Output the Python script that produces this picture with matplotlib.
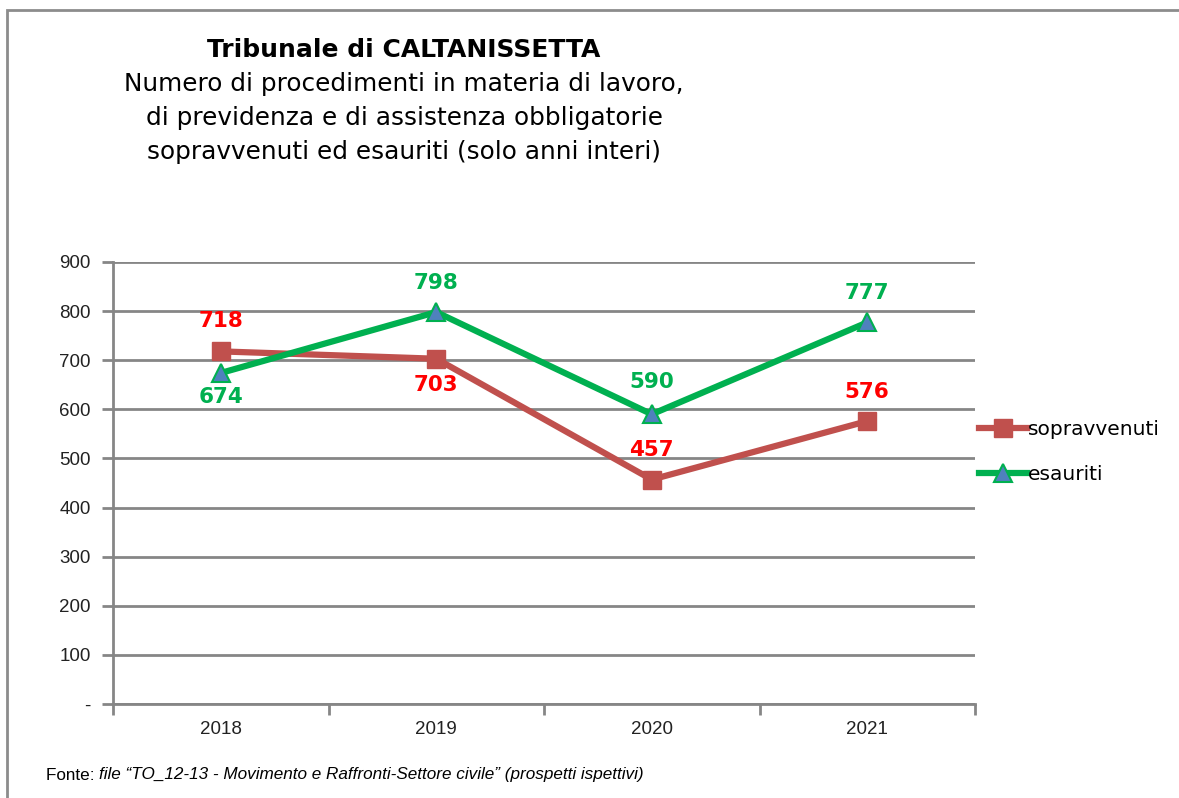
import matplotlib
matplotlib.use("Agg")
import matplotlib.pyplot as plt
from matplotlib.patches import Rectangle

years = ["2018", "2019", "2020", "2021"]
sopravvenuti = [718, 703, 457, 576]
esauriti = [674, 798, 590, 777]
yticks = [0, 100, 200, 300, 400, 500, 600, 700, 800, 900]
ytick_labels = ["-", "100", "200", "300", "400", "500", "600", "700", "800", "900"]

W, H = 1179, 798
fig = plt.figure(figsize=(W / 100, H / 100), dpi=100)

# outer frame
fig.patches.append(Rectangle((7 / W, -0.01), 1.2, (H - 10) / H + 0.01, transform=fig.transFigure,
                             fill=False, edgecolor="#8c8c8c", linewidth=2))

ax = fig.add_axes([113 / W, 94 / H, (975 - 113) / W, (704 - 262) / H])
x = list(range(len(years)))
grid_c = "#868686"

ax.set_xlim(-0.5, len(years) - 0.5)
ax.set_ylim(0, 900)
ax.set_yticks(yticks)
ax.set_yticklabels(ytick_labels, fontfamily="Liberation Sans", fontsize=13.5, color="#222222")
ax.set_xticks([i - 0.5 for i in range(len(years) + 1)])
ax.set_xticklabels([])
ax.set_xticks(x, minor=True)
ax.set_xticklabels(years, minor=True, fontfamily="Liberation Sans", fontsize=13.5, color="#222222")
ax.tick_params(axis="x", which="minor", length=0, pad=12)
ax.tick_params(axis="x", which="major", length=8, width=2, color=grid_c)
ax.tick_params(axis="y", length=8, width=2, color=grid_c, pad=8)
ax.grid(axis="y", color=grid_c, linewidth=2)
ax.set_axisbelow(True)
for s in ["top", "right"]:
    ax.spines[s].set_visible(False)
for s in ["left", "bottom"]:
    ax.spines[s].set_color(grid_c)
    ax.spines[s].set_linewidth(2)

red_line = "#C0504D"
green = "#00B050"
ax.plot(x, sopravvenuti, color=red_line, linewidth=4.5, marker="s", markersize=13.5,
        markerfacecolor=red_line, markeredgecolor=red_line, label="sopravvenuti", zorder=3)
ax.plot(x, esauriti, color=green, linewidth=4.5, marker="^", markersize=13,
        markerfacecolor="#4F81BD", markeredgecolor=green, markeredgewidth=1.5,
        label="esauriti", zorder=4)

lab_font = dict(fontfamily="DejaVu Sans", fontsize=15.5, fontweight="bold", ha="center")
sop_off = [15, -12, 14, 14]
esa_off = [-10, 14, 16, 14]
for i in x:
    o = sop_off[i]
    ax.annotate(str(sopravvenuti[i]), (i, sopravvenuti[i]), xytext=(0, o), textcoords="offset points",
                va="bottom" if o > 0 else "top", color="#FF0000", **lab_font)
    o = esa_off[i]
    ax.annotate(str(esauriti[i]), (i, esauriti[i]), xytext=(0, o), textcoords="offset points",
                va="bottom" if o > 0 else "top", color=green, **lab_font)

leg = ax.legend(loc="center left", bbox_to_anchor=(0.995, 0.57), frameon=False,
                prop={"family": "DejaVu Sans", "size": 14.5}, handlelength=2.4,
                handletextpad=0.05, labelspacing=1.3, borderaxespad=0)

fig.text(404 / W, 1 - 50 / H, "Tribunale di CALTANISSETTA", ha="center", va="center",
         fontfamily="DejaVu Sans", fontsize=18, fontweight="bold")
sub = ["Numero di procedimenti in materia di lavoro,",
       "di previdenza e di assistenza obbligatorie",
       "sopravvenuti ed esauriti (solo anni interi)"]
for k, line in enumerate(sub):
    fig.text(404 / W, 1 - (84 + 34 * k) / H, line, ha="center", va="center",
             fontfamily="DejaVu Sans", fontsize=17.8)

t1 = fig.text(46 / W, 1 - 775 / H, "Fonte: ", ha="left", va="center",
              fontfamily="Liberation Sans", fontsize=12.3)
fig.canvas.draw()
bb = t1.get_window_extent()
fig.text(bb.x1 / W, 1 - 775 / H, "file \u201cTO_12-13 - Movimento e Raffronti-Settore civile\u201d (prospetti ispettivi)",
         ha="left", va="center", fontfamily="Liberation Sans", fontsize=12.3, style="italic")

fig.savefig("out.png", dpi=100)
